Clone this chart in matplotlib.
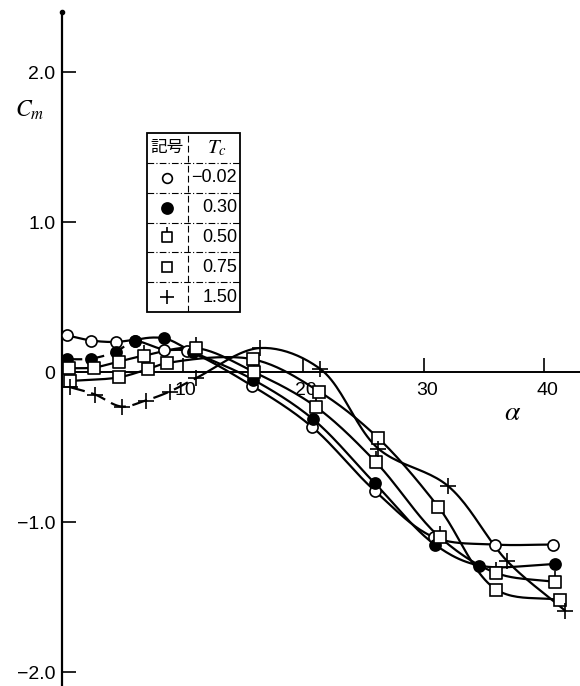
import numpy as np
import matplotlib
matplotlib.use("Agg")
import matplotlib.pyplot as plt
from matplotlib.path import Path
from matplotlib.patches import Rectangle
from matplotlib.transforms import ScaledTranslation

# Moment coefficient Cm against angle of attack alpha, for several thrust coefficients Tc
tc_labels = ["\u22120.02", "0.30", "0.50", "0.75", "1.50"]

alpha_m002 = [0.35, 2.4, 4.4, 6.0, 8.4, 10.3, 15.7, 20.7, 25.9, 30.8, 35.9, 40.7]
cm_m002 = [0.245, 0.21, 0.20, 0.21, 0.15, 0.14, -0.09, -0.365, -0.79, -1.10, -1.15, -1.15]

alpha_030 = [0.35, 2.4, 4.4, 6.0, 8.4, 10.8, 15.8, 20.8, 25.9, 30.9, 34.6, 40.9]
cm_030 = [0.085, 0.09, 0.135, 0.21, 0.225, 0.135, -0.05, -0.315, -0.74, -1.15, -1.29, -1.28]

alpha_050 = [0.5, 2.6, 4.7, 6.8, 11.1, 15.9, 21.0, 26.0, 31.3, 36.0, 40.9]
cm_050 = [0.025, 0.03, 0.07, 0.11, 0.16, 0.00, -0.23, -0.60, -1.10, -1.34, -1.40]

alpha_075 = [0.6, 4.7, 7.1, 8.7, 15.8, 21.3, 26.2, 31.2, 36.0, 41.3]
cm_075 = [-0.06, -0.035, 0.02, 0.06, 0.085, -0.13, -0.44, -0.90, -1.45, -1.52]

alpha_150 = [0.6, 2.7, 4.9, 6.9, 8.9, 11.1, 16.4, 21.4, 26.2, 32.0, 36.9, 41.7]
cm_150 = [-0.10, -0.15, -0.23, -0.19, -0.13, -0.04, 0.16, 0.02, -0.51, -0.76, -1.26, -1.59]

y_ticks = [-2.0, -1.0, 0.0, 1.0, 2.0]
y_ticklabels = ["\u22122.0", "\u22121.0", "0", "1.0", "2.0"]
x_ticks = [10, 20, 30, 40]
x_ticklabels = ["10", "20", "30", "40"]

plt.rcParams["font.family"] = ["Liberation Sans", "DejaVu Sans"]
plt.rcParams["mathtext.fontset"] = "stix"

# square with a short flag stem on top
stem_square = Path(
    [(-0.5, -0.5), (0.5, -0.5), (0.5, 0.5), (-0.5, 0.5), (-0.5, -0.5),
     (0.0, 0.5), (0.0, 1.0)],
    [Path.MOVETO, Path.LINETO, Path.LINETO, Path.LINETO, Path.CLOSEPOLY,
     Path.MOVETO, Path.LINETO])

styles = [
    dict(marker="o", ms=8, mfc="white", mec="black", mew=1.2),
    dict(marker="o", ms=8, mfc="black", mec="black", mew=1.2),
    dict(marker=stem_square, ms=16, mfc="white", mec="black", mew=1.2),
    dict(marker="s", ms=8, mfc="white", mec="black", mew=1.2),
    dict(marker="+", ms=11, mfc="none", mec="black", mew=1.2),
]
# curves drawn with a broken stroke up to this alpha (None = solid throughout)
dash_until = [None, 6.0, None, None, 11.1]


def smooth_curve(x, y, yscale=12.45, n=24):
    """Centripetal Catmull-Rom curve through the measured points."""
    pts = np.column_stack([np.asarray(x, float), np.asarray(y, float) * yscale])
    P = np.vstack([2 * pts[0] - pts[1], pts, 2 * pts[-1] - pts[-2]])
    out = []
    for i in range(1, len(P) - 2):
        p0, p1, p2, p3 = P[i - 1], P[i], P[i + 1], P[i + 2]
        t0 = 0.0
        t1 = t0 + max(np.linalg.norm(p1 - p0), 1e-6) ** 0.5
        t2 = t1 + max(np.linalg.norm(p2 - p1), 1e-6) ** 0.5
        t3 = t2 + max(np.linalg.norm(p3 - p2), 1e-6) ** 0.5
        t = np.linspace(t1, t2, n)[:, None]
        a1 = (t1 - t) / (t1 - t0) * p0 + (t - t0) / (t1 - t0) * p1
        a2 = (t2 - t) / (t2 - t1) * p1 + (t - t1) / (t2 - t1) * p2
        a3 = (t3 - t) / (t3 - t2) * p2 + (t - t2) / (t3 - t2) * p3
        b1 = (t2 - t) / (t2 - t0) * a1 + (t - t0) / (t2 - t0) * a2
        b2 = (t3 - t) / (t3 - t1) * a2 + (t - t1) / (t3 - t1) * a3
        c = (t2 - t) / (t2 - t1) * b1 + (t - t1) / (t2 - t1) * b2
        out.append(c if i == 1 else c[1:])
    c = np.vstack(out)
    return c[:, 0], c[:, 1] / yscale


W, H = 580, 686
fig = plt.figure(figsize=(W / 100, H / 100), dpi=100)
fig.patch.set_facecolor("white")
ax = fig.add_axes([62.5 / W, 0.0, (W - 62.5) / W, 674 / H])
ax.set_xlim(0, 42.95)
ax.set_ylim(-2.093, 2.4)

series = [(alpha_m002, cm_m002), (alpha_030, cm_030), (alpha_050, cm_050),
          (alpha_075, cm_075), (alpha_150, cm_150)]
for (a, c), st, cut in zip(series, styles, dash_until):
    sx, sy = smooth_curve(a, c)
    if cut is None:
        ax.plot(sx, sy, color="black", lw=1.6, zorder=2)
    else:
        k = int(np.argmin(np.abs(sx - cut)))
        ax.plot(sx[:k + 1], sy[:k + 1], color="black", lw=1.6, zorder=2,
                ls=(0, (7, 3)))
        ax.plot(sx[k:], sy[k:], color="black", lw=1.6, zorder=2)
    ax.plot(a, c, linestyle="none", zorder=3, **st)

# axes drawn as a cross: vertical Cm axis, horizontal alpha axis through zero
for side in ("top", "right"):
    ax.spines[side].set_visible(False)
ax.spines["bottom"].set_position(("data", 0))
ax.spines["left"].set_linewidth(1.6)
ax.spines["bottom"].set_linewidth(1.4)
ax.plot([0], [2.4], marker="o", ms=3, color="black", clip_on=False, zorder=5)

ax.set_yticks(y_ticks)
ax.set_yticklabels(y_ticklabels)
ax.set_xticks(x_ticks)
ax.set_xticklabels(x_ticklabels)
ax.tick_params(axis="y", direction="in", length=10, width=1.2, pad=5,
               labelsize=14)
ax.tick_params(axis="x", direction="in", length=10, width=1.2, pad=7,
               labelsize=14)
for lbl in ax.get_xticklabels():
    lbl.set_horizontalalignment("left")
    lbl.set_transform(lbl.get_transform() +
                      ScaledTranslation(-8 / 100, 0, fig.dpi_scale_trans))

fig.text(30 / W, 1 - 110 / H, r"$C_m$", fontsize=17, ha="center", va="center")
fig.text(513 / W, 1 - 413 / H, r"$\alpha$", fontsize=20, ha="center", va="center")

# symbol table
lg = fig.add_axes([147 / W, 1 - 312 / H, 93 / W, 179 / H])
lg.set_xlim(0, 1)
lg.set_ylim(0, 6)
lg.axis("off")
lg.add_patch(Rectangle((0, 0), 1, 6, fill=False, lw=1.3, ec="black",
                       clip_on=False))
col = 0.44
lg.plot([col, col], [0, 6], color="black", lw=0.8, ls=(0, (6, 3)))
for k in range(1, 6):
    lg.plot([0, 1], [k, k], color="black", lw=0.8, ls=(0, (6, 2, 1, 2)))
lg.text(col / 2, 5.5, "記号", family=["Noto Sans CJK JP"], fontsize=12,
        ha="center", va="center")
lg.text((col + 1) / 2 + 0.03, 5.5, r"$T_c$", fontsize=15, ha="center",
        va="center")
leg_styles = [dict(s) for s in styles]
leg_styles[0]["ms"] = 7
leg_styles[1]["ms"] = 8
leg_styles[2]["ms"] = 14
leg_styles[3]["ms"] = 7
leg_styles[4]["ms"] = 10
for i, (lab, st) in enumerate(zip(tc_labels, leg_styles)):
    yc = 4.5 - i
    lg.plot([col / 2], [yc], linestyle="none", clip_on=False, **st)
    lg.text(0.97, yc, lab, fontsize=13, ha="right", va="center")

fig.savefig("out.png", dpi=100, facecolor="white")
